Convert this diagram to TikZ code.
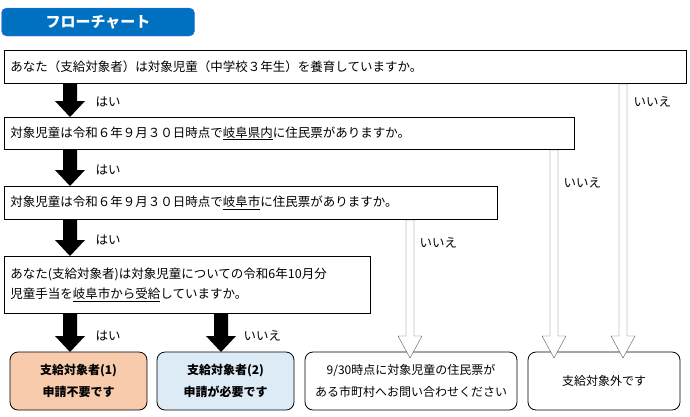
\documentclass[tikz,border=0pt]{standalone}
\usepackage{fontspec}
\setmainfont{Noto Sans CJK JP}
\usetikzlibrary{arrows.meta}
\newcommand\uln[1]{\underline{#1}}
\tikzset{
  qbox/.style={draw, thick, rectangle, anchor=north west, align=left, inner sep=6pt, font=\fontsize{12.5}{20}\selectfont},
  endbox/.style={draw, thick, rounded corners=8pt, align=center, font=\fontsize{12}{22}\selectfont},
  yes/.style={font=\fontsize{12.5}{14}\selectfont, anchor=west}
}
% solid down arrow: x, y top, y bottom
\newcommand\solidarrow[3]{\fill (#1-7,#2) -- (#1+7,#2) -- (#1+7,#3-16) -- (#1+15,#3-16) -- (#1,#3) -- (#1-15,#3-16) -- (#1-7,#3-16) -- cycle;}
% hollow down arrow
\newcommand\hollowarrow[3]{\draw[gray!70!black, fill=white] (#1-4,#2) -- (#1+4,#2) -- (#1+4,#3-22) -- (#1+12,#3-22) -- (#1,#3) -- (#1-12,#3-22) -- (#1-4,#3-22) -- cycle;}
\begin{document}
\begin{tikzpicture}[x=1pt, y=-1pt]
\useasboundingbox (0,0) rectangle (690,416);
% title
\node[draw=blue!60, fill={rgb,255:red,0;green,112;blue,192}, rounded corners=5pt, minimum width=193pt, minimum height=28pt, text=white, font=\bfseries\fontsize{15}{16}\selectfont] (title) at (98,22) {フローチャート};
% questions
\node[qbox, text width=670pt, minimum height=33pt] (q1) at (4,50) {あなた（支給対象者）は対象児童（中学校３年生）を養育していますか。};
\node[qbox, text width=558pt, minimum height=32pt] (q2) at (4,117) {対象児童は令和６年９月３０日時点で\uln{岐阜県内}に住民票がありますか。};
\node[qbox, text width=481pt, minimum height=33pt] (q3) at (4,186) {対象児童は令和６年９月３０日時点で\uln{岐阜市}に住民票がありますか。};
\node[qbox, text width=354pt, minimum height=57pt] (q4) at (4,256) {あなた(支給対象者)は対象児童についての令和6年10月分\\児童手当を\uln{岐阜市から受給}していますか。};
% results
\node[endbox, fill={rgb,255:red,248;green,203;blue,173}, minimum width=137pt, minimum height=58pt, font=\bfseries\fontsize{12}{22}\selectfont] (r1) at (78.5,381) {支給対象者(1)\\申請不要です};
\node[endbox, fill={rgb,255:red,221;green,235;blue,247}, minimum width=137pt, minimum height=58pt, font=\bfseries\fontsize{12}{22}\selectfont] (r2) at (225.5,381) {支給対象者(2)\\申請が必要です};
\node[endbox, minimum width=212pt, minimum height=58pt] (r3) at (411,381) {9/30時点に対象児童の住民票が\\ある市町村へお問い合わせください};
\node[endbox, minimum width=152pt, minimum height=58pt] (r4) at (604,381) {支給対象外です};
% arrows
\solidarrow{70}{84}{117}
\solidarrow{70}{150}{186}
\solidarrow{70}{220}{256}
\solidarrow{70}{314}{352}
\solidarrow{221}{314}{352}
\hollowarrow{623}{84}{358}
\hollowarrow{554}{150}{358}
\hollowarrow{410}{220}{358}
% labels
\node[yes] (y1) at (92,102) {はい};
\node[yes] (y2) at (92,170) {はい};
\node[yes] (y3) at (92,240) {はい};
\node[yes] (y4) at (92,336) {はい};
\node[yes] (n4) at (240,336) {いいえ};
\node[yes] (n1) at (630,102) {いいえ};
\node[yes] (n2) at (560,183) {いいえ};
\node[yes] (n3) at (416,243) {いいえ};
\end{tikzpicture}
\end{document}
